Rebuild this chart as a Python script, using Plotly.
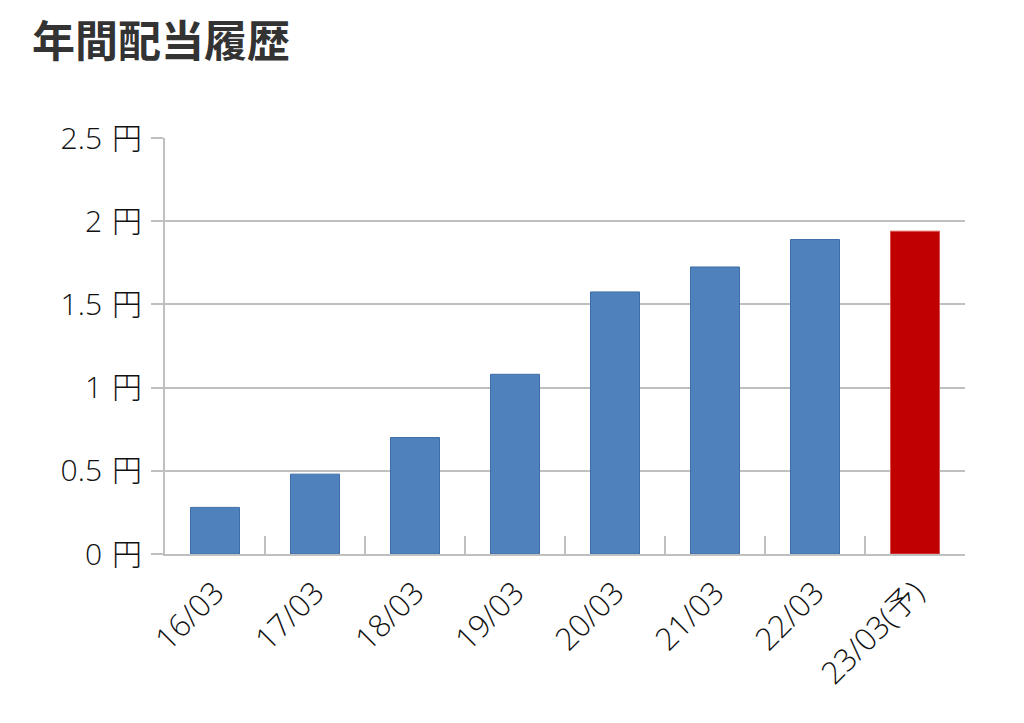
import plotly.graph_objects as go

categories = ["16/03", "17/03", "18/03", "19/03", "20/03", "21/03", "22/03", "23/03(予)"]
dividends = [0.28, 0.48, 0.70, 1.08, 1.575, 1.725, 1.89, 1.94]
bar_colors = ["#4f81bd"] * 7 + ["#c00000"]
edge_colors = ["#3f6fa8"] * 7 + ["#d9534f"]
y_tickvals = [0, 0.5, 1, 1.5, 2, 2.5]
y_ticktext = ["0\u2004円", "0.5\u2004円", "1\u2004円", "1.5\u2004円", "2\u2004円", "2.5\u2004円"]
title_text = "年間配当履歴"

font_family = "Noto Sans CJK JP, Noto Sans, sans-serif"
tick_family = "Open Sans, Noto Sans CJK JP, sans-serif"
grid_color = "#c0c0c0"

fig = go.Figure(
    go.Bar(
        x=categories,
        y=dividends,
        marker=dict(color=bar_colors, line=dict(color=edge_colors, width=1)),
        width=0.49,
        hoverinfo="x+y",
    )
)

fig.update_layout(
    width=1024,
    height=723,
    margin=dict(l=157, r=67, t=130, b=177),
    paper_bgcolor="white",
    plot_bgcolor="white",
    showlegend=False,
    font=dict(family=font_family, color="#111111", size=29),
    title=dict(
        text="<b>" + title_text + "</b>",
        x=24 / 1024,
        xanchor="left",
        y=1 - 34 / 723,
        yanchor="middle",
        font=dict(family=font_family, size=43, color="#333333"),
    ),
)

fig.update_xaxes(
    type="category",
    tickangle=-45,
    ticks="inside",
    tickson="boundaries",
    ticklen=18,
    tickwidth=2,
    tickcolor=grid_color,
    showline=True,
    linecolor=grid_color,
    linewidth=2,
    showgrid=False,
    ticklabelstandoff=6,
    tickfont=dict(family=tick_family, size=31, color="#111111", weight=300),
)

fig.update_yaxes(
    range=[0, 2.5],
    tickvals=y_tickvals,
    ticktext=y_ticktext,
    ticks="outside",
    ticklen=12,
    tickwidth=2,
    tickcolor=grid_color,
    showgrid=True,
    gridcolor=grid_color,
    gridwidth=2,
    showline=True,
    linecolor=grid_color,
    linewidth=2,
    zeroline=False,
    ticklabelstandoff=3,
    tickfont=dict(family=tick_family, size=30, color="#111111", weight=300),
)

fig.write_html("out.html")
